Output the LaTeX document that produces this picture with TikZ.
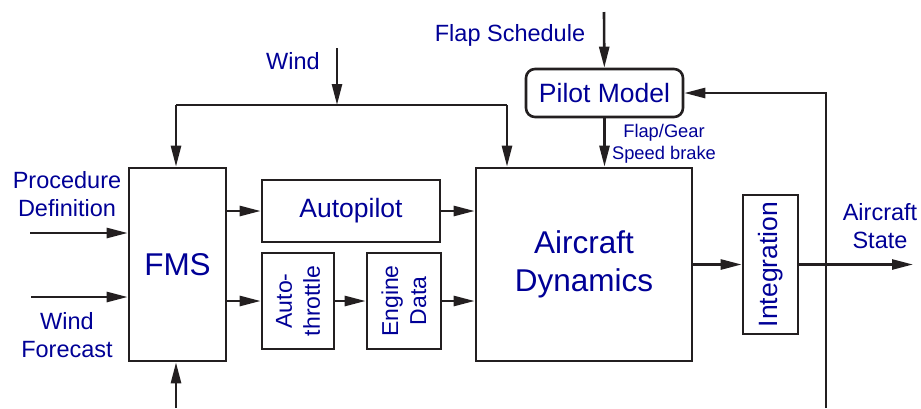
\documentclass[tikz,border=0pt]{standalone}
\usepackage{fontspec}
\setmainfont{Liberation Sans}
\usetikzlibrary{arrows.meta, positioning, calc}
\definecolor{txtblue}{RGB}{0,0,150}
\definecolor{ink}{RGB}{35,31,32}
\newcommand{\fsz}[2]{\fontsize{#1}{#2}\selectfont}

\begin{document}
\begin{tikzpicture}[
    x=1pt, y=-1pt,
    box/.style={rectangle, draw=ink, line width=2.6pt, inner sep=0pt,
                align=center, text=txtblue, font=\fsz{26.5}{32}},
    bigbox/.style={box, font=\fsz{31.5}{38}},
    vbox/.style={box, rotate=90, font=\fsz{23}{28}},
    lbl/.style={text=txtblue, align=center, inner sep=0pt, font=\fsz{23.5}{28}},
    small/.style={lbl, font=\fsz{18.3}{22}},
    arrow/.style={draw=ink, line width=2.6pt, -{Triangle[length=21pt,width=10pt]}},
    line/.style={draw=ink, line width=2.6pt}
]
\useasboundingbox (0,0) rectangle (921,408);

%% --- Blocks ---
\node[bigbox, minimum width=97pt, minimum height=193pt]  (fms)   at (177.5,264.5) {FMS};
\node[box, minimum width=178pt, minimum height=62pt]     (ap)    at (351,211)     {Autopilot};
\node[vbox, minimum width=96pt, minimum height=72pt]     (at)    at (298,301)     {Auto-\\throttle};
\node[vbox, minimum width=96pt, minimum height=74pt]     (eng)   at (404,301)     {Engine\\Data};
\node[bigbox, minimum width=216pt, minimum height=193pt] (dyn)   at (584,264.5)   {Aircraft\\Dynamics};
\node[box, rotate=90, minimum width=139pt, minimum height=55pt] (integ) at (770.5,264.5) {Integration};
\node[box, rounded corners=9pt, minimum width=157pt, minimum height=48pt] (pilot) at (604.5,93) {Pilot Model};

%% --- Labels ---
\node[lbl] (lwind)  at (293,61)   {Wind};
\node[lbl] (lflap)  at (510,35)   {Flap Schedule};
\node[small] (lgear) at (664,144) {Flap/Gear\\Speed brake};
\node[lbl] (lproc)  at (67,194)   {Procedure\\Definition};
\node[lbl] (lwfc)   at (67,335)   {Wind\\Forecast};
\node[lbl] (lstate) at (880,226)  {Aircraft\\State};

%% --- Free ends ---
\coordinate (windin)  at (337,48);
\coordinate (windj)   at (337,105);
\coordinate (wl)      at (176,105);
\coordinate (wr)      at (507,105);
\coordinate (flapin)  at (604,12);
\coordinate (procin)  at (30,233);
\coordinate (wfcin)   at (31,297);
\coordinate (fmsin)   at (176,408);
\coordinate (stout)   at (913,264.5);
\coordinate (fbin)    at (826,408);

%% --- Inputs ---
\draw[arrow] (windin) -- (windj);
\draw[line]  (wl) -- (wr);
\draw[arrow] (wl) -- (wl |- fms.north);
\draw[arrow] (wr) -- (wr |- dyn.north);
\draw[arrow] (flapin) -- (pilot);
\draw[arrow] (procin) -- (procin -| fms.west);
\draw[arrow] (wfcin) -- (wfcin -| fms.west);
\draw[arrow] (fmsin) -- (fmsin |- fms.south);

%% --- Main flow ---
\draw[arrow] (fms.east |- ap) -- (ap);
\draw[arrow] (fms.east |- at) -- (at);
\draw[arrow] (at) -- (eng);
\draw[arrow] (ap) -- (dyn.west |- ap);
\draw[arrow] (eng) -- (dyn.west |- eng);
\draw[arrow] (pilot) -- (pilot |- dyn.north);
\draw[arrow] (dyn) -- (integ);
\draw[arrow] (integ) -- (stout);

%% --- Feedback ---
\draw[arrow] (fbin) |- (pilot);

\end{tikzpicture}
\end{document}
